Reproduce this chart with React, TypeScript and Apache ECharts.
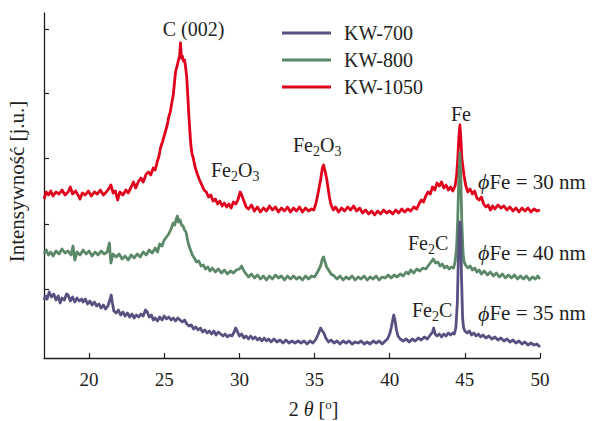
import { useEffect, useRef } from 'react';
import * as echarts from 'echarts';

const seriesNames = ['KW-700', 'KW-800', 'KW-1050'];
const seriesColors = ['#575181', '#5a8868', '#e1001c'];
const xTickValues = [20, 25, 30, 35, 40, 45, 50];
const yTickValues = [69, 134, 199.5, 264.5, 329];

// [2θ, intensity (a.u.)]
const kw1050: [number, number][] = [
  [17.0,159],[17.15,166],[17.3,163],[17.45,167],[17.6,162],[17.8,166],[18.0,164],[18.2,168],[18.4,163],[18.6,166],[18.75,171],[18.9,164],[19.1,167],[19.3,162],[19.4,159],[19.55,165],[19.75,163],[19.95,167],[20.15,162],[20.35,166],[20.55,164],[20.75,168],[20.95,163],[21.15,166],[21.3,169],[21.45,173],[21.6,165],[21.75,167],[21.9,158],[22.05,166],[22.25,163],[22.45,168],[22.6,165],[22.8,171],[22.95,176],[23.1,170],[23.3,177],[23.45,180],[23.6,176],[23.8,184],[23.95,186],[24.1,183],[24.27,190],[24.4,188],[24.53,196],[24.65,202],[24.75,210],[24.9,217],[25.07,226],[25.2,233],[25.3,241],[25.4,246],[25.5,255],[25.6,263],[25.68,275],[25.75,286],[25.87,293],[25.95,298],[26.02,302],[26.08,315],[26.14,300],[26.2,302],[26.27,297],[26.35,298],[26.42,291],[26.5,280],[26.57,262],[26.63,244],[26.7,228],[26.77,213],[26.85,204],[26.93,200],[27.05,191],[27.2,184],[27.35,178],[27.5,173],[27.65,168],[27.8,166],[27.95,161],[28.1,163],[28.25,157],[28.4,159],[28.55,154],[28.7,157],[28.85,152],[29.0,155],[29.15,151],[29.3,154],[29.45,150],[29.6,156],[29.75,154],[29.9,158],[30.05,166],[30.15,163],[30.3,157],[30.45,151],[30.6,149],[30.8,153],[31.0,147],[31.2,151],[31.4,146],[31.6,150],[31.8,147],[32.0,152],[32.2,148],[32.4,151],[32.6,146],[32.8,150],[33.0,147],[33.2,151],[33.4,146],[33.6,150],[33.8,147],[34.0,151],[34.2,146],[34.4,150],[34.6,147],[34.8,149],[34.95,148],[35.1,155],[35.25,166],[35.4,178],[35.52,190],[35.6,193],[35.7,187],[35.8,180],[35.9,170],[36.0,160],[36.1,153],[36.25,148],[36.4,151],[36.6,146],[36.8,150],[37.0,147],[37.2,151],[37.4,148],[37.6,152],[37.8,147],[38.0,150],[38.2,145],[38.4,148],[38.6,144],[38.8,147],[39.0,143],[39.2,147],[39.4,144],[39.6,148],[39.8,145],[40.0,147],[40.2,144],[40.4,148],[40.6,145],[40.8,149],[41.0,146],[41.2,149],[41.4,147],[41.6,151],[41.8,149],[41.95,154],[42.1,158],[42.25,156],[42.4,162],[42.55,166],[42.7,164],[42.85,171],[43.0,168],[43.15,175],[43.3,172],[43.45,176],[43.6,170],[43.75,173],[43.9,168],[44.05,171],[44.2,167],[44.35,172],[44.45,182],[44.53,200],[44.6,220],[44.67,233],[44.74,218],[44.8,200],[44.88,190],[44.95,182],[45.05,173],[45.2,166],[45.35,169],[45.5,164],[45.65,167],[45.8,160],[45.95,158],[46.1,161],[46.25,154],[46.4,151],[46.55,153],[46.7,148],[46.85,152],[47.0,149],[47.2,153],[47.4,150],[47.6,152],[47.8,148],[48.0,151],[48.2,147],[48.4,150],[48.6,146],[48.8,150],[49.0,147],[49.2,150],[49.4,146],[49.6,149],[49.8,147],[50.0,148]
];

const kw800: [number, number][] = [
  [17.0,104],[17.15,108],[17.3,103],[17.45,106],[17.6,102],[17.8,107],[18.0,104],[18.2,109],[18.4,105],[18.6,107],[18.8,103],[18.93,112],[19.05,98],[19.2,106],[19.4,103],[19.6,108],[19.8,104],[20.0,107],[20.2,102],[20.4,106],[20.6,103],[20.8,107],[21.0,104],[21.2,106],[21.35,115],[21.45,95],[21.6,104],[21.8,101],[22.0,104],[22.2,99],[22.4,102],[22.6,98],[22.8,103],[23.0,100],[23.2,104],[23.4,101],[23.6,106],[23.8,103],[24.0,108],[24.2,105],[24.4,110],[24.55,106],[24.7,114],[24.85,112],[25.0,118],[25.15,121],[25.3,124],[25.45,129],[25.6,135],[25.7,133],[25.8,139],[25.88,142],[25.95,136],[26.05,138],[26.15,133],[26.25,132],[26.35,128],[26.45,126],[26.55,118],[26.65,112],[26.75,108],[26.87,103],[27.0,100],[27.15,96],[27.3,97],[27.45,92],[27.6,93],[27.75,89],[27.9,91],[28.05,87],[28.2,90],[28.4,86],[28.6,89],[28.8,85],[29.0,88],[29.2,84],[29.4,87],[29.6,85],[29.8,88],[30.0,89],[30.15,92],[30.3,87],[30.45,84],[30.6,81],[30.8,84],[31.0,80],[31.2,83],[31.4,79],[31.6,82],[31.8,78],[32.0,82],[32.2,79],[32.4,83],[32.6,80],[32.8,82],[33.0,78],[33.2,82],[33.4,79],[33.6,82],[33.8,79],[34.0,81],[34.2,78],[34.4,82],[34.6,79],[34.8,82],[35.0,81],[35.2,86],[35.4,92],[35.5,98],[35.6,101],[35.7,96],[35.8,91],[35.93,88],[36.1,84],[36.3,82],[36.5,79],[36.7,82],[36.9,78],[37.1,81],[37.3,79],[37.5,82],[37.7,78],[37.9,81],[38.1,79],[38.3,82],[38.5,78],[38.7,81],[38.9,79],[39.1,82],[39.3,78],[39.5,81],[39.7,80],[39.9,83],[40.1,80],[40.3,83],[40.5,81],[40.7,84],[40.9,82],[41.1,86],[41.25,84],[41.4,88],[41.6,85],[41.8,89],[42.0,87],[42.2,90],[42.4,89],[42.6,93],[42.75,96],[42.9,99],[43.05,95],[43.2,96],[43.35,92],[43.5,94],[43.65,90],[43.8,92],[43.95,89],[44.1,91],[44.25,90],[44.35,96],[44.45,110],[44.53,140],[44.6,180],[44.67,205],[44.74,175],[44.8,135],[44.88,105],[44.95,96],[45.05,93],[45.2,90],[45.35,92],[45.5,88],[45.65,90],[45.8,86],[45.95,88],[46.1,84],[46.3,87],[46.5,83],[46.7,86],[46.9,82],[47.1,85],[47.3,81],[47.5,84],[47.7,80],[47.9,83],[48.1,80],[48.3,83],[48.5,79],[48.7,82],[48.9,79],[49.1,82],[49.3,78],[49.5,81],[49.7,79],[49.85,82],[50.0,79]
];

const kw700: [number, number][] = [
  [17.0,58],[17.1,62],[17.2,59],[17.35,66],[17.5,61],[17.65,64],[17.8,58],[17.95,62],[18.07,55],[18.2,60],[18.35,58],[18.5,64],[18.6,63],[18.75,57],[18.9,61],[19.05,56],[19.2,60],[19.35,57],[19.5,59],[19.6,56],[19.75,59],[19.9,54],[20.05,57],[20.2,53],[20.35,56],[20.5,52],[20.65,54],[20.8,50],[20.95,53],[21.1,49],[21.25,52],[21.38,58],[21.47,63],[21.55,55],[21.65,47],[21.8,45],[21.95,48],[22.1,43],[22.25,46],[22.4,42],[22.55,45],[22.7,41],[22.85,44],[23.0,40],[23.15,43],[23.3,41],[23.45,44],[23.6,42],[23.75,48],[23.87,46],[24.0,41],[24.15,43],[24.27,38],[24.4,40],[24.55,37],[24.7,41],[24.85,38],[25.0,42],[25.15,39],[25.3,41],[25.45,38],[25.6,40],[25.75,37],[25.9,40],[26.05,38],[26.2,36],[26.35,38],[26.5,34],[26.65,32],[26.8,33],[26.95,29],[27.1,31],[27.25,28],[27.4,30],[27.55,26],[27.7,28],[27.85,25],[28.0,27],[28.15,24],[28.3,27],[28.45,23],[28.6,26],[28.75,24],[28.9,22],[29.05,24],[29.2,21],[29.35,23],[29.5,22],[29.65,26],[29.75,30],[29.85,27],[30.0,22],[30.15,24],[30.3,20],[30.45,22],[30.6,19],[30.75,22],[30.9,19],[31.05,21],[31.2,18],[31.35,20],[31.5,17],[31.65,20],[31.8,17],[31.95,19],[32.1,16],[32.3,19],[32.5,16],[32.7,18],[32.9,15],[33.1,18],[33.3,15],[33.5,17],[33.7,15],[33.9,17],[34.1,15],[34.3,17],[34.5,14],[34.7,17],[34.9,15],[35.1,19],[35.25,24],[35.4,30],[35.52,27],[35.62,25],[35.75,20],[35.93,16],[36.1,18],[36.3,15],[36.5,17],[36.7,14],[36.9,17],[37.1,15],[37.3,17],[37.5,14],[37.7,16],[37.9,15],[38.1,17],[38.3,14],[38.5,16],[38.7,14],[38.9,17],[39.1,15],[39.3,17],[39.5,14],[39.7,17],[39.85,19],[40.0,24],[40.1,30],[40.2,38],[40.27,43],[40.35,38],[40.45,28],[40.55,22],[40.7,19],[40.9,17],[41.1,19],[41.3,16],[41.5,19],[41.7,17],[41.9,20],[42.1,18],[42.3,21],[42.5,19],[42.7,23],[42.85,26],[42.93,30],[43.02,24],[43.15,22],[43.3,24],[43.45,21],[43.6,24],[43.75,22],[43.9,25],[44.05,23],[44.2,25],[44.3,24],[44.4,30],[44.5,55],[44.57,100],[44.63,130],[44.67,136],[44.72,125],[44.78,80],[44.85,40],[44.92,30],[45.0,27],[45.15,25],[45.3,27],[45.45,23],[45.6,25],[45.75,22],[45.9,24],[46.05,21],[46.2,23],[46.4,20],[46.6,22],[46.8,19],[47.0,21],[47.2,18],[47.4,20],[47.6,17],[47.8,19],[48.0,16],[48.2,18],[48.4,15],[48.6,17],[48.8,14],[49.0,16],[49.2,13],[49.4,15],[49.6,13],[49.8,14],[50.0,11]
];

const FONT = "'Liberation Serif', 'Times New Roman', serif";
const INK = '#231f20';

export default function App() {
  const ref = useRef<HTMLDivElement>(null);
  useEffect(() => {
    const chart = echarts.init(ref.current!, null, { renderer: 'svg' });
    const sub = { fontSize: 14, fontFamily: FONT, color: INK, padding: [13, 0, 0, 0] };
    const phi = { fontSize: 22, fontStyle: 'italic', fontFamily: FONT, color: INK };
    const txt = (text: string, x: number, y: number, align: string, size: number, rich?: any) => ({
      type: 'text',
      x,
      y,
      silent: true,
      style: {
        text,
        fontSize: size,
        fontFamily: FONT,
        fill: INK,
        align,
        verticalAlign: 'middle',
        textAlign: align,
        textVerticalAlign: 'middle',
        rich,
      },
    });
    chart.setOption({
      animation: false,
      backgroundColor: '#ffffff',
      grid: { left: 44, right: 58, top: 13, bottom: 63, containLabel: false },
      legend: {
        data: seriesNames,
        orient: 'vertical',
        left: 282,
        top: 23,
        padding: 0,
        icon: 'rect',
        itemWidth: 49,
        itemHeight: 3,
        itemGap: 7,
        textStyle: { fontFamily: FONT, fontSize: 20, color: INK, lineHeight: 20, padding: [0, 0, 0, 8] },
      },
      xAxis: {
        type: 'value',
        min: 17,
        max: 50,
        axisLine: { show: true, lineStyle: { color: INK, width: 1.3 } },
        axisTick: { show: true, inside: true, length: 5, customValues: xTickValues, lineStyle: { color: INK, width: 1.2 } },
        axisLabel: { show: true, customValues: xTickValues, fontFamily: FONT, fontSize: 19, color: INK, margin: 12 },
        splitLine: { show: false },
      },
      yAxis: {
        type: 'value',
        min: 0,
        max: 345,
        axisLine: { show: true, lineStyle: { color: INK, width: 1.3 } },
        axisTick: { show: true, inside: true, length: 5, customValues: yTickValues, lineStyle: { color: INK, width: 1.2 } },
        axisLabel: { show: false },
        splitLine: { show: false },
      },
      series: [
        { name: seriesNames[2], type: 'line', data: kw1050, color: seriesColors[2] },
        { name: seriesNames[1], type: 'line', data: kw800, color: seriesColors[1] },
        { name: seriesNames[0], type: 'line', data: kw700, color: seriesColors[0] },
      ].map((s) => ({
        ...s,
        symbol: 'none',
        lineStyle: { width: 2.8, color: s.color, join: 'round' },
        itemStyle: { color: s.color },
        silent: true,
      })),
      graphic: [
        txt('C (002)', 193.5, 29, 'center', 20),
        txt('Fe{s|2}O{s|3}', 211, 169.5, 'left', 20, { s: sub }),
        txt('Fe{s|2}O{s|3}', 293, 145, 'left', 20, { s: sub }),
        txt('Fe', 461, 114, 'center', 20),
        txt('{p|ϕ}Fe = 30 nm', 478, 181.5, 'left', 21, { p: phi }),
        txt('Fe{s|2}C', 408, 242.5, 'left', 20, { s: sub }),
        txt('{p|ϕ}Fe = 40 nm', 478, 252.5, 'left', 21, { p: phi }),
        txt('Fe{s|2}C', 412, 310, 'left', 20, { s: sub }),
        txt('{p|ϕ}Fe = 35 nm', 478, 313, 'left', 21, { p: phi }),
        txt('2 {t|θ} [{o|o}]', 313.5, 409, 'center', 20, {
          t: { fontSize: 20, fontStyle: 'italic', fontFamily: FONT, color: INK },
          o: { fontSize: 13, fontFamily: FONT, color: INK, padding: [0, 0, 9, 0] },
        }),
        {
          ...txt('Intensywność [j.u.]', 17, 181.5, 'center', 21),
          rotation: Math.PI / 2,
        },
      ],
    });
    return () => chart.dispose();
  }, []);
  return <div ref={ref} style={{ position: 'fixed', left: 0, top: 0, width: 598, height: 421 }} />;
}
